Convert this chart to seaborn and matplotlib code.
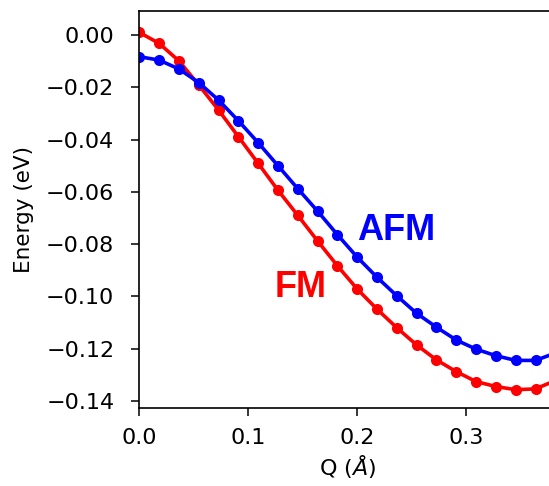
import matplotlib
matplotlib.use("Agg")
import matplotlib.pyplot as plt
import numpy as np
import pandas as pd
import seaborn as sns

# Q values (1/Angstrom) and energies (eV)
q = [0.0, 0.0182, 0.0364, 0.0546, 0.0728, 0.0910, 0.1092, 0.1274, 0.1456, 0.1638,
     0.1820, 0.2002, 0.2184, 0.2366, 0.2548, 0.2730, 0.2912, 0.3094, 0.3276, 0.3458,
     0.3640, 0.3822]
e_fm = [0.0010, -0.0032, -0.0099, -0.0191, -0.0287, -0.0389, -0.0491, -0.0594, -0.0690, -0.0788,
        -0.0883, -0.0972, -0.1049, -0.1120, -0.1186, -0.1243, -0.1288, -0.1326, -0.1345, -0.1357,
        -0.1354, -0.1322]
e_afm = [-0.0083, -0.0096, -0.0130, -0.0182, -0.0249, -0.0328, -0.0412, -0.0500, -0.0588, -0.0674,
         -0.0764, -0.0850, -0.0927, -0.0998, -0.1065, -0.1118, -0.1167, -0.1202, -0.1227, -0.1245,
         -0.1245, -0.1217]

df = pd.DataFrame({"Q": q, "FM": e_fm, "AFM": e_afm})

sns.set_style("ticks")
plt.rcParams['font.family'] = ['DejaVu Sans']
plt.rcParams['text.color'] = 'black'
plt.rcParams['axes.labelcolor'] = 'black'
plt.rcParams['xtick.color'] = 'black'
plt.rcParams['ytick.color'] = 'black'

fig = plt.figure(figsize=(5.49, 4.86), dpi=100)
ax = fig.add_axes([0.2537, 0.160, 0.76, 0.818])

for col, color in [("FM", "red"), ("AFM", "blue")]:
    sns.lineplot(data=df, x="Q", y=col, ax=ax, color=color, linewidth=2.6,
                 marker="o", markersize=8, markeredgewidth=0)

ax.text(0.1998, -0.0784, "AFM", color="blue", fontsize=26, fontweight="bold",
        family="Liberation Sans")
ax.text(0.1247, -0.1001, "FM", color="red", fontsize=26, fontweight="bold",
        family="Liberation Sans")

ax.set_xlim(0, 0.3833)
ax.set_ylim(-0.1428, 0.0093)
ax.set_xticks([0.0, 0.1, 0.2, 0.3])
ax.set_yticks([0.00, -0.02, -0.04, -0.06, -0.08, -0.10, -0.12, -0.14])
ax.set_yticklabels([f"{v:.2f}".replace("-", "\u2212") for v in ax.get_yticks()])
ax.set_xticklabels(["0.0", "0.1", "0.2", "0.3"])
ax.tick_params(labelsize=16, length=6, width=1.1)
ax.tick_params(axis="x", pad=8)
ax.tick_params(axis="y", pad=12)
for s in ax.spines.values():
    s.set_color("black")
    s.set_linewidth(1.2)

ax.set_xlabel(r"Q ($\AA$)", fontsize=16, labelpad=4)
ax.set_ylabel("Energy (eV)", fontsize=15.5, labelpad=9)

fig.savefig("out.png", dpi=100)
